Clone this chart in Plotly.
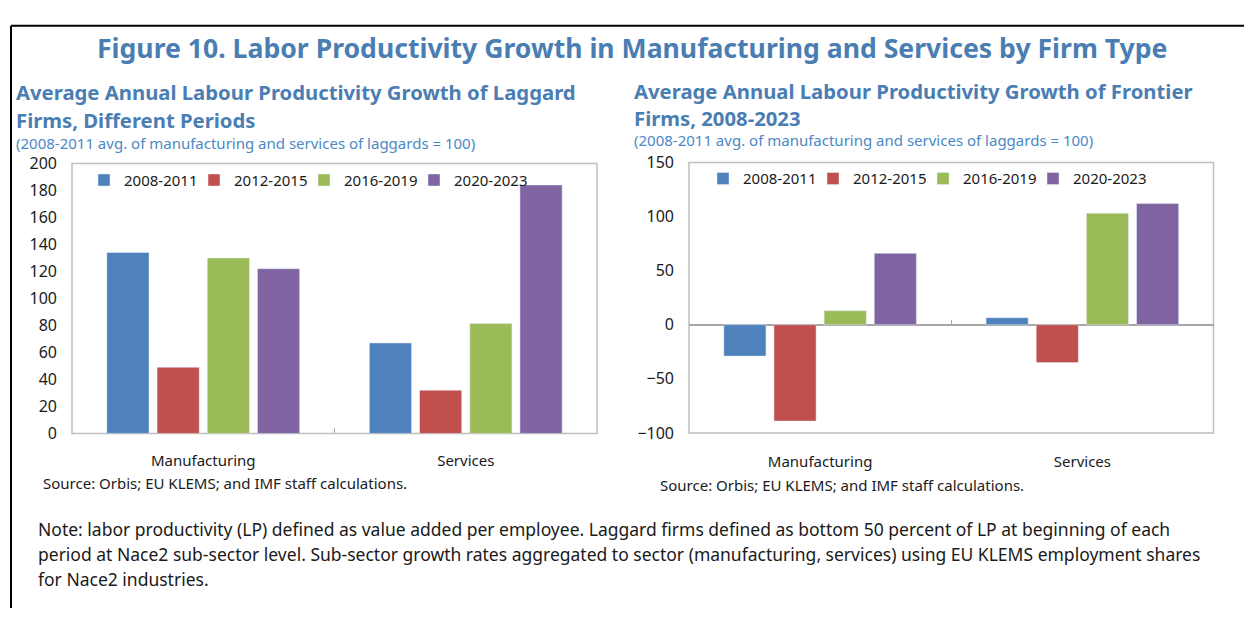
import plotly.graph_objects as go

# ---- data -------------------------------------------------------------
sectors = ["Manufacturing", "Services"]
periods = ["2008-2011", "2012-2015", "2016-2019", "2020-2023"]

# Laggard firms, average annual LP growth (2008-2011 avg. of laggards = 100)
laggard_2008_2011 = [134, 67]
laggard_2012_2015 = [49, 32]
laggard_2016_2019 = [130, 81.5]
laggard_2020_2023 = [122, 184]

# Frontier firms, same normalisation
frontier_2008_2011 = [-29, 6.5]
frontier_2012_2015 = [-89, -35]
frontier_2016_2019 = [13, 103]
frontier_2020_2023 = [66, 112]

left_yticks = [0, 20, 40, 60, 80, 100, 120, 140, 160, 180, 200]
right_yticks = [-100, -50, 0, 50, 100, 150]

period_colors = ["#4f81bd", "#c0504d", "#9bbb59", "#8064a2"]

# ---- page geometry (pixels) ------------------------------------------
W, H = 1244, 619
FONT = "Noto Sans"
TITLE_BLUE = "#4a7eb3"
NOTE_BLUE = "#4a88c6"
FRAME = "#bfbfbf"


def px(x):
    return x / W


def py(y):
    return 1 - y / H


fig = go.Figure()

laggard = [laggard_2008_2011, laggard_2012_2015, laggard_2016_2019, laggard_2020_2023]
frontier = [frontier_2008_2011, frontier_2012_2015, frontier_2016_2019, frontier_2020_2023]

for i, (name, vals, col) in enumerate(zip(periods, laggard, period_colors)):
    fig.add_trace(go.Bar(x=sectors, y=vals, name=name, marker_color=col,
                         xaxis="x", yaxis="y", legend="legend",
                         legendwidth=90 if i == len(periods) - 1 else None))
for i, (name, vals, col) in enumerate(zip(periods, frontier, period_colors)):
    fig.add_trace(go.Bar(x=sectors, y=vals, name=name, marker_color=col,
                         xaxis="x2", yaxis="y2", legend="legend2",
                         legendwidth=90 if i == len(periods) - 1 else None))

ytick_font = dict(family=FONT, size=16, color="#1a1a1a")
xtick_font = dict(family=FONT, size=15, color="#1a1a1a")
legend_font = dict(family=FONT, size=15, color="#1a1a1a")

left_top, left_bot = 158, 438
right_top, right_bot = 157, 437.5
right_zero = right_top + (150 / 250) * (right_bot - right_top)

fig.update_layout(
    width=W, height=H,
    margin=dict(l=0, r=0, t=0, b=0),
    paper_bgcolor="white", plot_bgcolor="white",
    barmode="group", bargap=0.235, bargroupgap=0.16,
    font=dict(family=FONT, color="#1a1a1a"),
    xaxis=dict(domain=[px(72), px(597)], anchor="y", type="category",
               categoryarray=sectors, showline=False, showgrid=False,
               ticks="inside", tickson="boundaries", ticklen=5, tickwidth=1,
               tickcolor="#a6a6a6", tickfont=xtick_font, ticklabelstandoff=17),
    yaxis=dict(domain=[py(left_bot), py(left_top)], anchor="x", range=[0, 200],
               tickvals=left_yticks, showgrid=False, zeroline=False,
               showline=False, ticks="", tickfont=ytick_font,
               ticklabelstandoff=14),
    xaxis2=dict(domain=[px(689), px(1213.5)], anchor="free",
                position=py(right_zero), type="category",
                categoryarray=sectors, showline=False, showgrid=False,
                ticks="inside", tickson="boundaries", ticklen=5, tickwidth=1,
                tickcolor="#a6a6a6", tickfont=xtick_font,
                ticklabelstandoff=int(right_bot - right_zero) + 14),
    yaxis2=dict(domain=[py(right_bot), py(right_top)], anchor="x2",
                range=[-100, 150], tickvals=right_yticks, showgrid=False,
                zeroline=True, zerolinecolor="#a6a6a6", zerolinewidth=1.5,
                showline=False, ticks="", tickfont=ytick_font,
                ticklabelstandoff=14),
    legend=dict(orientation="h", x=px(84), xanchor="left", y=py(175.5),
                yanchor="middle", entrywidth=65, bgcolor="rgba(0,0,0,0)",
                font=legend_font, traceorder="normal"),
    legend2=dict(orientation="h", x=px(703), xanchor="left", y=py(174),
                 yanchor="middle", entrywidth=65, bgcolor="rgba(0,0,0,0)",
                 font=legend_font, traceorder="normal"),
)

# plot-area frames
for xr, yr in (("x domain", "y domain"), ("x2 domain", "y2 domain")):
    fig.add_shape(type="rect", xref=xr, yref=yr, x0=0, x1=1, y0=0, y1=1,
                  line=dict(color=FRAME, width=1.5), layer="below")

# outer border: top and left rules
fig.add_shape(type="line", xref="paper", yref="paper", x0=px(11), x1=1,
              y0=py(15.3), y1=py(15.3), line=dict(color="black", width=2))
fig.add_shape(type="line", xref="paper", yref="paper", x0=px(11), x1=px(11),
              y0=py(15.3), y1=0, line=dict(color="black", width=2))


def text(x, y, s, size, color="#1a1a1a", bold=False, anchor="left"):
    fig.add_annotation(x=px(x), y=py(y), xref="paper", yref="paper",
                       text=f"<b>{s}</b>" if bold else s, showarrow=False,
                       xanchor=anchor, yanchor="middle",
                       font=dict(family=FONT, size=size, color=color))


text(632, 38, "Figure 10. Labor Productivity Growth in Manufacturing and Services by Firm Type",
     26.6, TITLE_BLUE, bold=True, anchor="center")

text(14, 84, "Average Annual Labour Productivity Growth of Laggard", 20.3, TITLE_BLUE, bold=True)
text(14, 113, "Firms, Different Periods", 20.3, TITLE_BLUE, bold=True)
text(14, 137, "(2008-2011 avg. of manufacturing and services of laggards = 100)", 15, NOTE_BLUE)

text(632, 83, "Average Annual Labour Productivity Growth of Frontier", 20.3, TITLE_BLUE, bold=True)
text(632, 111, "Firms, 2008-2023", 20.3, TITLE_BLUE, bold=True)
text(632, 134, "(2008-2011 avg. of manufacturing and services of laggards = 100)", 15, NOTE_BLUE)

text(41, 489, "Source: Orbis; EU KLEMS; and IMF staff calculations.", 15)
text(658, 491, "Source: Orbis; EU KLEMS; and IMF staff calculations.", 15)

note_lines = [
    "Note: labor productivity (LP) defined as value added per employee. Laggard firms defined as bottom 50 percent of LP at beginning of each",
    "period at Nace2 sub-sector level. Sub-sector growth rates aggregated to sector (manufacturing, services) using EU KLEMS employment shares",
    "for Nace2 industries.",
]
for i, line in enumerate(note_lines):
    text(36, 537 + 26 * i, line, 17.5)

# page without body margin so the figure sits flush at the top-left corner
fig.write_html("out.html", post_script="document.body.style.margin='0';")
